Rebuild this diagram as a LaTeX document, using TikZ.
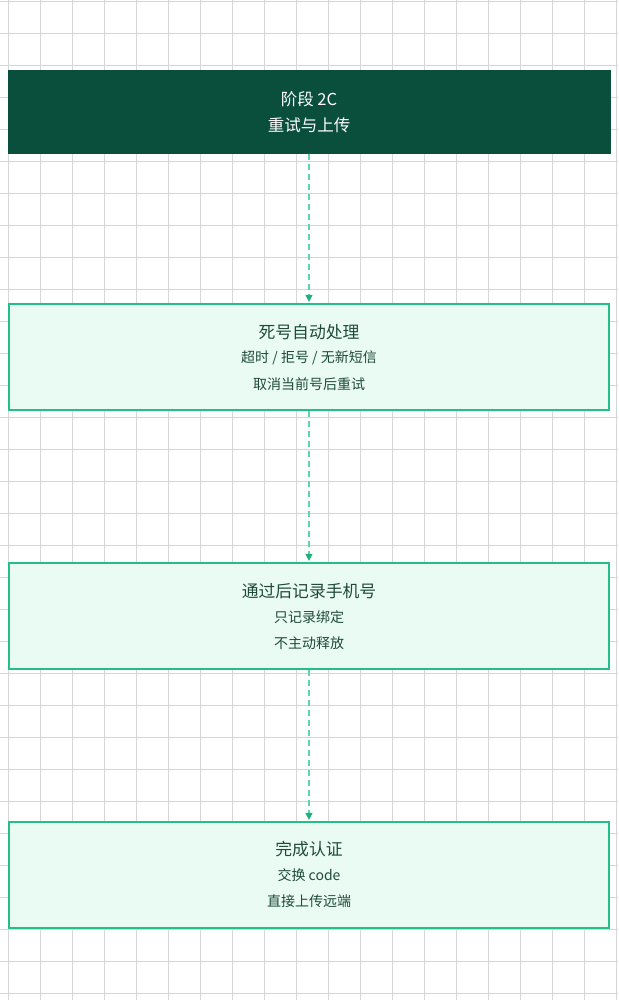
\documentclass[tikz,border=0pt]{standalone}
\usepackage{fontspec}
\setmainfont{Noto Sans CJK SC}
\usetikzlibrary{arrows.meta}
\definecolor{gridc}{HTML}{D6D6D6}
\definecolor{darkg}{HTML}{0A4F3C}
\definecolor{bord}{HTML}{22BF87}
\definecolor{fillg}{HTML}{EAFBF3}
\definecolor{txtg}{HTML}{1E4A3C}
\definecolor{dashc}{HTML}{5CD6A8}
\definecolor{tipc}{HTML}{1FB07C}
\tikzset{
  phasebox/.style={draw=none, fill=darkg, minimum width=603pt, minimum height=84pt, text=white, align=center, font=\fontsize{16.5pt}{26pt}\selectfont, inner sep=0pt},
  stepbox/.style={draw=bord, line width=2.2pt, fill=fillg, minimum width=600pt, minimum height=106pt, text=txtg, align=center, inner sep=0pt},
  flow/.style={dashc, line width=1.2pt, dash pattern=on 6pt off 4pt, -{Triangle[length=7pt,width=7pt,fill=tipc,color=tipc]}, shorten >=1pt},
}
\newcommand{\ttl}[1]{{\fontsize{16.8pt}{20pt}\selectfont #1}}
\newcommand{\sbl}[1]{{\fontsize{14pt}{16pt}\selectfont #1}}
\begin{document}
\begin{tikzpicture}[x=1pt,y=-1pt]
\useasboundingbox (0,0) rectangle (618,1000);
\fill[white] (0,0) rectangle (618,1000);
\foreach \i in {0,...,19} {\draw[gridc, line width=0.7pt] (8+32*\i,0) -- (8+32*\i,1000);}
\foreach \j in {0,...,31} {\draw[gridc, line width=0.7pt] (0,1+32*\j) -- (618,1+32*\j);}
\node[phasebox] (p) at (309,112) {阶段 2C\\重试与上传};
\node[stepbox] (a) at (309,357) {};
\node[text=txtg] (a1) at (309,332) {\ttl{死号自动处理}};
\node[text=txtg] (a2) at (309,358) {\sbl{超时 / 拒号 / 无新短信}};
\node[text=txtg] (a3) at (309,384) {\sbl{取消当前号后重试}};
\node[stepbox] (b) at (309,616) {};
\node[text=txtg] (b1) at (309,591) {\ttl{通过后记录手机号}};
\node[text=txtg] (b2) at (309,617) {\sbl{只记录绑定}};
\node[text=txtg] (b3) at (309,643) {\sbl{不主动释放}};
\node[stepbox] (c) at (309,875) {};
\node[text=txtg] (c1) at (309,849) {\ttl{完成认证}};
\node[text=txtg] (c2) at (309,875) {\sbl{交换 code}};
\node[text=txtg] (c3) at (309,901) {\sbl{直接上传远端}};
\draw[flow] (p.south) -- (a.north);
\draw[flow] (a.south) -- (b.north);
\draw[flow] (b.south) -- (c.north);
\end{tikzpicture}
\end{document}
